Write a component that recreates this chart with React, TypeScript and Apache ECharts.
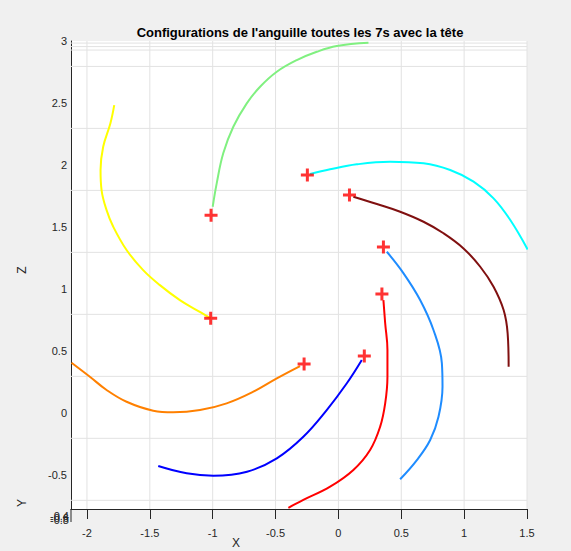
import React, { useEffect, useRef } from "react";
import * as echarts from "echarts";

const xTicks = [-2, -1.5, -1, -0.5, 0, 0.5, 1, 1.5];
const zTicks = [-0.5, 0, 0.5, 1, 1.5, 2, 2.5, 3];
const yTickLabels = ["-0.4", "-0.6", "-0.8"];
const wallLines = [2.983, 2.955, 2.927];

const yellowCurve = [
  [-1.783, 2.483], [-1.814, 2.335], [-1.871, 2.147], [-1.892, 1.959], [-1.884, 1.798],
  [-1.844, 1.636], [-1.791, 1.502], [-1.685, 1.314], [-1.553, 1.152], [-1.42, 1.031],
  [-1.261, 0.91], [-1.128, 0.83], [-1.016, 0.763],
];
const greenCurve = [
  [-1.0, 1.663], [-0.968, 1.852], [-0.916, 2.094], [-0.836, 2.308], [-0.729, 2.497],
  [-0.623, 2.631], [-0.49, 2.752], [-0.331, 2.846], [-0.172, 2.913], [-0.013, 2.959], [0.239, 2.985],
];
const cyanCurve = [
  [-0.225, 1.927], [-0.066, 1.965], [0.146, 2.005], [0.411, 2.026], [0.677, 2.013],
  [0.889, 1.959], [1.075, 1.865], [1.234, 1.731], [1.367, 1.556], [1.505, 1.319],
];
const maroonCurve = [
  [0.119, 1.744], [0.306, 1.685], [0.491, 1.623], [0.677, 1.542], [0.836, 1.449],
  [0.995, 1.327], [1.128, 1.179], [1.234, 1.018], [1.314, 0.83], [1.346, 0.642], [1.354, 0.373],
];
const skyCurve = [
  [0.385, 1.3], [0.518, 1.126], [0.65, 0.911], [0.756, 0.669], [0.823, 0.4],
  [0.828, 0.211], [0.796, -0.031], [0.73, -0.218], [0.624, -0.38], [0.491, -0.535],
];
const redCurve = [
  [0.358, 0.91], [0.372, 0.723], [0.39, 0.507], [0.39, 0.292], [0.372, 0.077],
  [0.332, -0.111], [0.252, -0.299], [0.119, -0.46], [-0.066, -0.595], [-0.279, -0.702], [-0.398, -0.765],
];
const blueCurve = [
  [0.186, 0.427], [0.067, 0.239], [-0.093, 0.023], [-0.279, -0.192], [-0.49, -0.366],
  [-0.727, -0.474], [-0.995, -0.506], [-1.207, -0.487], [-1.433, -0.428],
];
const orangeCurve = [
  [-0.305, 0.378], [-0.49, 0.279], [-0.677, 0.171], [-0.889, 0.077], [-1.101, 0.023],
  [-1.314, 0.005], [-1.473, 0.018], [-1.685, 0.09], [-1.844, 0.185], [-1.977, 0.292], [-2.123, 0.405],
];
const heads = [
  [-1.016, 0.763], [-1.013, 1.594], [-0.247, 1.919], [0.088, 1.757],
  [0.358, 1.338], [0.346, 0.959], [0.206, 0.459], [-0.273, 0.394],
];

const curves = [
  { data: yellowCurve, color: "#ffff00" },
  { data: greenCurve, color: "#80f080" },
  { data: cyanCurve, color: "#00ffff" },
  { data: maroonCurve, color: "#801010" },
  { data: skyCurve, color: "#1e8cff" },
  { data: redCurve, color: "#ff0000" },
  { data: blueCurve, color: "#0000ff" },
  { data: orangeCurve, color: "#ff8000" },
];

const X_MIN = -2.127;
const X_MAX = 1.5;
const Z_MIN = -0.775;
const Z_MAX = 3;
const GRID_SHIFT = 0.205;

const FONT = "'Liberation Sans', Arial, Helvetica, sans-serif";
const TXT = "#262626";

export default function App() {
  const ref = useRef<HTMLDivElement>(null);
  useEffect(() => {
    if (!ref.current) return;
    const chart = echarts.init(ref.current, null, { renderer: "svg" });
    const gridLine = (data: number[][]) => ({
      type: "line",
      data,
      silent: true,
      showSymbol: false,
      z: 1,
      lineStyle: { color: "#e2e2e2", width: 1 },
    });
    const gridSeries = [
      ...xTicks.map((v) => gridLine([[v, Z_MIN], [v, Z_MAX]])),
      ...zTicks.map((v) => gridLine([[X_MIN, v - GRID_SHIFT], [X_MAX, v - GRID_SHIFT]])),
      ...wallLines.map((v) => gridLine([[X_MIN, v], [X_MAX, v]])),
    ];
    chart.setOption({
      animation: false,
      backgroundColor: "#f0f0f0",
      grid: { left: 71, right: 44, top: 41, bottom: 42, show: true, backgroundColor: "#ffffff", borderWidth: 0 },
      xAxis: {
        type: "value",
        min: X_MIN,
        max: X_MAX,
        axisLine: { show: true, onZero: false, lineStyle: { color: TXT, width: 1 } },
        axisTick: { show: true, length: 10, customValues: xTicks, lineStyle: { color: TXT } },
        axisLabel: { customValues: xTicks, margin: 18, color: TXT, fontSize: 11, fontFamily: FONT },
        splitLine: { show: false },
      },
      yAxis: {
        type: "value",
        min: Z_MIN,
        max: Z_MAX,
        axisLine: { show: true, onZero: false, lineStyle: { color: TXT, width: 1 } },
        axisTick: { show: false },
        axisLabel: { customValues: zTicks, margin: 4, color: TXT, fontSize: 11, fontFamily: FONT },
        splitLine: { show: false },
      },
      series: [
        ...gridSeries,
        ...curves.map((c) => ({
          type: "line",
          data: c.data,
          showSymbol: false,
          smooth: 0.4,
          z: 3,
          lineStyle: { color: c.color, width: 2 },
          itemStyle: { color: c.color },
        })),
        {
          type: "scatter",
          data: heads,
          z: 5,
          symbol: "path://M5,0H8V5H13V8H8V13H5V8H0V5H5Z",
          symbolSize: 13,
          itemStyle: { color: "#ff0000" },
        },
      ],
      graphic: [
        {
          type: "text",
          x: 300,
          y: 32,
          style: {
            text: "Configurations de l'anguille toutes les 7s avec la tête",
            font: `bold 13px ${FONT}`,
            fill: "#000",
            align: "center",
            verticalAlign: "middle",
          },
        },
        {
          type: "line",
          shape: { x1: 71, y1: 509, x2: 71, y2: 522 },
          style: { stroke: TXT, lineWidth: 1 },
        },
        {
          type: "text",
          x: 236,
          y: 543,
          style: { text: "X", font: `12px ${FONT}`, fill: TXT, align: "center", verticalAlign: "middle" },
        },
        {
          type: "text",
          x: 22,
          y: 270,
          rotation: Math.PI / 2,
          style: { text: "Z", font: `12px ${FONT}`, fill: TXT, align: "center", verticalAlign: "middle" },
        },
        {
          type: "text",
          x: 22,
          y: 503,
          rotation: Math.PI / 2,
          style: { text: "Y", font: `12px ${FONT}`, fill: TXT, align: "center", verticalAlign: "middle" },
        },
        ...yTickLabels.map((t, i) => ({
          type: "text",
          x: 69,
          y: 516 + i * 2,
          style: { text: t, font: `11px ${FONT}`, fill: TXT, align: "right", verticalAlign: "middle" },
        })),
      ],
    });
    return () => chart.dispose();
  }, []);
  return (
    <div
      ref={ref}
      style={{ position: "fixed", left: 0, top: 0, width: 571, height: 551 }}
    />
  );
}
